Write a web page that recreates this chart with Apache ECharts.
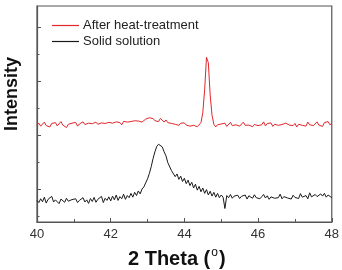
<!DOCTYPE html>
<html>
<head>
<meta charset="utf-8">
<script src="https://cdn.jsdelivr.net/npm/echarts@6/dist/echarts.min.js"></script>
<style>html,body{margin:0;padding:0;background:#fff}#c{width:342px;height:270px}</style>
</head>
<body>
<div id="c"></div>
<script>
// 2-theta sampling (degrees)
var thetaStart = 40, thetaStep = 0.05;
var xTicks = [40, 42, 44, 46, 48];
var seriesNames = ['After heat-treatment', 'Solid solution'];
// Intensity (arbitrary units, offset), 40.00..48.00 step 0.05
var heatTreated = [
 3.58,3.66,3.55,3.62,3.70,3.57,3.63,3.52,3.65,3.60,
 3.68,3.56,3.61,3.72,3.59,3.64,3.50,3.62,3.57,3.66,
 3.60,3.69,3.55,3.63,3.58,3.71,3.61,3.54,3.66,3.59,
 3.64,3.57,3.70,3.62,3.56,3.67,3.60,3.65,3.58,3.69,
 3.62,3.66,3.59,3.71,3.64,3.68,3.60,3.73,3.66,3.70,
 3.63,3.72,3.67,3.75,3.69,3.74,3.78,3.70,3.76,3.81,
 3.74,3.86,3.79,3.83,3.75,3.80,3.72,3.84,3.77,3.70,
 3.78,3.68,3.74,3.65,3.71,3.62,3.68,3.58,3.66,3.61,
 3.67,3.59,3.64,3.55,3.50,3.58,3.62,3.53,3.60,3.68,
 4.05,4.90,6.10,5.90,4.70,3.95,3.62,3.52,3.60,3.56,
 3.63,3.58,3.66,3.54,3.61,3.69,3.57,3.64,3.60,3.67,
 3.55,3.62,3.70,3.58,3.64,3.59,3.66,3.53,3.61,3.68,
 3.57,3.63,3.60,3.71,3.56,3.65,3.59,3.67,3.54,3.62,
 3.69,3.58,3.64,3.61,3.55,3.66,3.72,3.59,3.63,3.57,
 3.65,3.52,3.62,3.69,3.58,3.64,3.55,3.70,3.60,3.66,
 3.57,3.63,3.71,3.59,3.65,3.54,3.68,3.61,3.72,3.60,
 3.66
];
var solidSolution = [
 0.80,0.72,0.86,0.75,0.92,0.70,0.84,0.78,0.95,0.74,
 0.82,0.76,0.68,0.85,0.79,0.73,0.88,0.77,0.71,0.83,
 0.78,0.86,0.72,0.80,0.75,0.90,0.74,0.82,0.69,0.87,
 0.76,0.91,0.73,0.84,0.79,0.95,0.72,0.88,0.80,0.93,
 0.78,0.96,0.82,1.00,0.80,0.94,0.86,1.03,0.84,0.98,
 0.90,1.06,0.92,1.10,0.98,1.15,1.04,1.22,1.30,1.45,
 1.60,1.80,2.05,2.35,2.60,2.80,2.88,2.82,2.78,2.60,
 2.45,2.20,2.15,1.90,1.92,1.68,1.78,1.58,1.70,1.50,
 1.62,1.42,1.55,1.35,1.47,1.26,1.40,1.18,1.32,1.12,
 1.26,1.06,1.20,1.00,1.14,0.96,1.10,0.92,1.06,0.90,
 1.00,0.92,0.50,0.98,0.90,1.02,0.88,0.96,0.91,0.99,
 0.87,0.95,0.90,1.00,0.85,0.97,0.92,0.88,1.01,0.90,
 0.96,0.86,0.94,1.02,0.89,0.97,0.84,0.93,0.99,0.88,
 0.95,0.90,1.03,0.86,0.94,0.98,0.89,0.96,0.85,0.99,
 0.91,0.97,0.87,1.05,0.92,0.89,0.98,0.86,1.08,0.93,
 0.90,1.02,0.94,0.88,1.04,0.96,1.06,0.92,1.00,0.95,
 0.90
];
var yMajorTicks = [1.2, 3.2, 5.2, 7.2];
var yMinorTicks = [0.2, 2.2, 4.2, 6.2];

function pairs(arr) {
  return arr.map(function (v, i) { return [+(thetaStart + i * thetaStep).toFixed(2), v]; });
}

var chart = echarts.init(document.getElementById('c'), null, {renderer: 'canvas'});
var axisCol = '#555';
chart.setOption({
  animation: false,
  backgroundColor: '#fff',
  grid: {left: 37, right: 9, top: 6, bottom: 48, show: true, borderColor: axisCol, borderWidth: 1.2, backgroundColor: 'transparent'},
  legend: {
    orient: 'vertical', left: 47, top: 14, itemWidth: 27, itemHeight: 1.2, itemGap: 3,
    icon: 'rect',
    data: seriesNames,
    textStyle: {fontFamily: 'Liberation Sans, Arial', fontSize: 13, color: '#222', padding: [0, 0, 0, -1]}
  },
  xAxis: {
    type: 'value', min: 40, max: 48, interval: 2,
    axisLine: {show: true, lineStyle: {color: axisCol, width: 1.2}},
    axisTick: {show: true, inside: true, length: 4, lineStyle: {color: axisCol}},
    minorTick: {show: true, splitNumber: 2, length: 3, lineStyle: {color: axisCol}},
    splitLine: {show: false},
    axisLabel: {fontFamily: 'Liberation Sans, Arial', fontSize: 13, color: '#333', margin: 6,
      customValues: xTicks}
  },
  yAxis: [{
    type: 'value', min: 0, max: 8,
    axisLine: {show: true, lineStyle: {color: axisCol, width: 1.2}},
    axisTick: {show: true, inside: true, length: 4, lineStyle: {color: axisCol}, customValues: yMajorTicks},
    axisLabel: {show: false},
    splitLine: {show: false}
  }, {
    type: 'value', min: 0, max: 8, position: 'left',
    axisLine: {show: false},
    axisTick: {show: true, inside: true, length: 2.5, lineStyle: {color: axisCol}, customValues: yMinorTicks},
    axisLabel: {show: false},
    splitLine: {show: false}
  }],
  graphic: [{
    type: 'text', left: 3, top: 57, rotation: Math.PI / 2,
    style: {text: 'Intensity', font: 'bold 18px "Liberation Sans", Arial', fill: '#111'}
  }, {
    type: 'text', left: 128, top: 247,
    style: {
      text: '{a|2 Theta (}{s|o}{a|)}',
      rich: {
        a: {font: 'bold 20px "Liberation Sans", Arial', fill: '#111', lineHeight: 22, verticalAlign: 'bottom'},
        s: {font: '12px "Liberation Sans", Arial', fill: '#111', lineHeight: 12, verticalAlign: 'top', padding: [0, 1, 8, 1]}
      }
    }
  }],
  series: [{
    name: seriesNames[0], type: 'line', data: pairs(heatTreated), showSymbol: false, symbol: 'none',
    lineStyle: {color: '#e3262b', width: 1}, itemStyle: {color: '#e3262b'}
  }, {
    name: seriesNames[1], type: 'line', data: pairs(solidSolution), showSymbol: false, symbol: 'none',
    lineStyle: {color: '#1a1a1a', width: 1}, itemStyle: {color: '#1a1a1a'}
  }]
});
</script>
</body>
</html>
